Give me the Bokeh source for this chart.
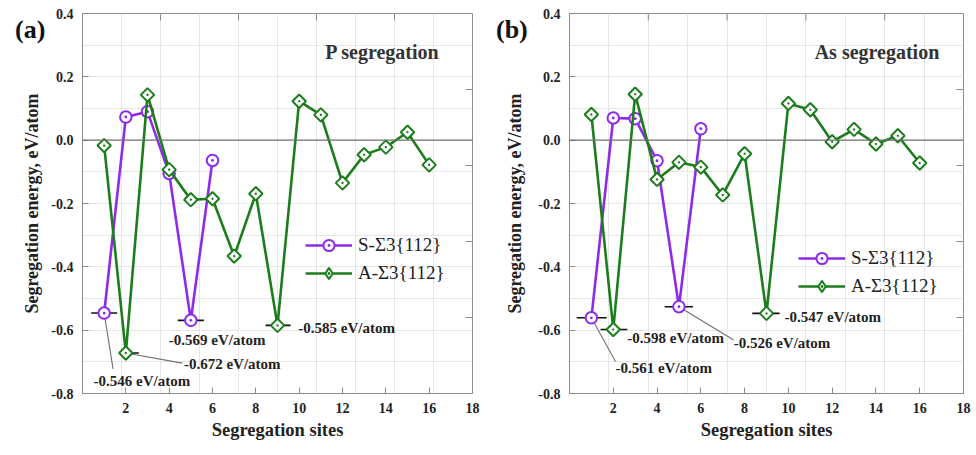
import math
from bokeh.plotting import figure
from bokeh.models import (Range1d, FixedTicker, Label, ColumnDataSource, Div,
                          Span, Legend, LegendItem, PrintfTickFormatter)
from bokeh.layouts import row
from bokeh.embed import file_html
from bokeh.resources import INLINE
from bokeh.core.properties import value

# ---------------- data ----------------
sites_S = [1, 2, 3, 4, 5, 6]
sites_A = list(range(1, 17))

P_S = [-0.546, 0.073, 0.090, -0.105, -0.569, -0.064]
P_A = [-0.017, -0.672, 0.143, -0.093, -0.188, -0.185, -0.366, -0.169,
       -0.585, 0.123, 0.080, -0.135, -0.046, -0.022, 0.025, -0.078]

As_S = [-0.561, 0.070, 0.068, -0.065, -0.526, 0.036]
As_A = [0.081, -0.598, 0.145, -0.124, -0.070, -0.085, -0.173, -0.043,
        -0.547, 0.116, 0.096, -0.005, 0.034, -0.012, 0.014, -0.072]

# annotated minima
P_ann_sites = [1, 2, 5, 9]
P_ann_vals = [-0.546, -0.672, -0.569, -0.585]
As_ann_sites = [1, 2, 5, 9]
As_ann_vals = [-0.561, -0.598, -0.526, -0.547]

x_ticks = [2, 4, 6, 8, 10, 12, 14, 16, 18]
y_ticks = [-0.8, -0.6, -0.4, -0.2, 0.0, 0.2, 0.4]
top_ticks = [3.6, 7.2, 10.8, 14.4]
right_ticks = [-0.56, -0.32, -0.08, 0.16]
series_names = ["S-\u03a33{112}", "A-\u03a33{112}"]
panel_tags = ["(a)", "(b)"]
panel_titles = ["P segregation", "As segregation"]

# ---------------- style ----------------
FONT = "Liberation Serif"
PURPLE = "#8f2ae8"
GREEN = "#1b7d1b"
TXT = "#222222"
AXC = "#8c8c8c"
GRIDC = "#e6e6e6"


def panel(title, s_vals, a_vals, ann_sites, ann_vals,
          bar_l, bar_r, txt_x, txt_y, lead_idx, lead_x, lead_y,
          legend_loc, width, bl, br, bb, ylab_standoff):
    p = figure(width=width, height=450, output_backend="svg", toolbar_location=None,
               x_range=Range1d(0, 18), y_range=Range1d(-0.8, 0.4),
               min_border_left=bl, min_border_right=br, min_border_top=13,
               min_border_bottom=bb)
    p.outline_line_color = AXC
    p.outline_line_width = 1

    # grids
    p.xgrid.ticker = FixedTicker(ticks=[1.8 * k for k in range(1, 10)])
    p.ygrid.ticker = FixedTicker(ticks=[-0.7, -0.6, -0.5, -0.4, -0.3, -0.2, -0.1,
                                        0.1, 0.2, 0.3])
    for g in (p.xgrid, p.ygrid):
        g.grid_line_color = GRIDC
        g.grid_line_width = 1
    p.add_layout(Span(location=0, dimension="width", line_color="#6e6e6e",
                      line_width=1.3))

    # bottom / left axes
    xa = p.xaxis[0]
    xa.ticker = FixedTicker(ticks=x_ticks)
    ya = p.yaxis[0]
    ya.ticker = FixedTicker(ticks=y_ticks)
    ya.formatter = PrintfTickFormatter(format="%.1f")
    xa.axis_label = "Segregation sites"
    ya.axis_label = "Segregation energy, eV/atom"
    for ax in (xa, ya):
        ax.axis_line_color = AXC
        ax.major_tick_line_color = AXC
        ax.major_tick_in = 6
        ax.major_tick_out = 0
        ax.minor_tick_line_color = None
        ax.major_label_text_font = FONT
        ax.major_label_text_font_style = "bold"
        ax.major_label_text_font_size = "14px"
        ax.major_label_text_color = TXT
        ax.axis_label_text_font = FONT
        ax.axis_label_text_font_style = "bold"
        ax.axis_label_text_color = TXT
    xa.axis_label_text_font_size = "18.5px"
    ya.axis_label_text_font_size = "18px"
    xa.major_label_standoff = 9
    xa.axis_label_standoff = 4
    ya.major_label_standoff = 9
    ya.axis_label_standoff = ylab_standoff

    # inward ticks on the top and right frame edges
    p.ray(x=top_ticks, y=[0.4] * len(top_ticks), length=7, length_units="screen",
          angle=-math.pi / 2, line_color=AXC, line_width=1)
    p.ray(x=[18] * len(right_ticks), y=right_ticks, length=7, length_units="screen",
          angle=math.pi, line_color=AXC, line_width=1)

    # annotation bars & leaders
    bar_src = ColumnDataSource(dict(
        x0=[s - l for s, l in zip(ann_sites, bar_l)],
        x1=[s + r for s, r in zip(ann_sites, bar_r)],
        y=ann_vals))
    p.segment(x0="x0", y0="y", x1="x1", y1="y", source=bar_src,
              line_color="#111111", line_width=1.6)
    lead_src = ColumnDataSource(dict(
        x0=[ann_sites[i] for i in lead_idx], y0=[ann_vals[i] for i in lead_idx],
        x1=lead_x, y1=lead_y))
    p.segment(x0="x0", y0="y0", x1="x1", y1="y1", source=lead_src,
              line_color="#707070", line_width=1.1)

    # series
    ls = p.line(sites_S, s_vals, line_color=PURPLE, line_width=2.6)
    ms = p.scatter(sites_S, s_vals, marker="circle_dot", size=11.5, line_color=PURPLE,
                   line_width=2, fill_color="white")
    la = p.line(sites_A, a_vals, line_color=GREEN, line_width=2.6)
    # diamond glyph used by the legend (fully covered by the rotated squares below)
    ma_leg = p.scatter(sites_A, a_vals, marker="diamond_dot", size=11, line_color=GREEN,
                       line_width=2, fill_color="white")
    p.scatter(sites_A, a_vals, marker="square_dot", angle=math.pi / 4, size=9.5,
              line_color=GREEN, line_width=2, fill_color="white")

    # annotation texts
    txt_src = ColumnDataSource(dict(x=txt_x, y=txt_y,
                                    t=["%.3f eV/atom" % v for v in ann_vals]))
    p.text(x="x", y="y", text="t", source=txt_src, text_font=value(FONT),
           text_font_style="bold", text_font_size="15px", text_color=TXT,
           text_baseline="middle", text_align="left")

    # inner title
    p.add_layout(Label(x=11.2, y=0.278, text=title, text_font=FONT,
                       text_font_style="bold", text_font_size="20px",
                       text_color="#333333", text_baseline="middle"))

    legend = Legend(items=[LegendItem(label=series_names[0], renderers=[ls, ms]),
                           LegendItem(label=series_names[1], renderers=[la, ma_leg])],
                    location=legend_loc, orientation="vertical",
                    label_text_font=FONT, label_text_font_size="19px",
                    label_text_color=TXT, label_standoff=6,
                    glyph_width=47, glyph_height=28, label_height=28,
                    spacing=0, padding=0, margin=0,
                    background_fill_alpha=0, border_line_alpha=0)
    p.add_layout(legend)
    return p


p1 = panel(panel_titles[0], P_S, P_A, P_ann_sites, P_ann_vals,
           bar_l=[0.6, 0.3, 0.6, 0.55], bar_r=[0.6, 0.6, 0.6, 0.6],
           txt_x=[0.51, 4.68, 3.98, 9.96], txt_y=[-0.759, -0.706, -0.630, -0.592],
           lead_idx=[0, 1], lead_x=[1.41, 4.6], lead_y=[-0.722, -0.704],
           legend_loc=(223, 106), width=484, bl=82, br=12, bb=57, ylab_standoff=6)

p2 = panel(panel_titles[1], As_S, As_A, As_ann_sites, As_ann_vals,
           bar_l=[0.67, 0.58, 0.65, 0.65], bar_r=[0.7, 0.64, 0.64, 0.6],
           txt_x=[2.1, 2.64, 7.5, 9.82], txt_y=[-0.719, -0.626, -0.642, -0.559],
           lead_idx=[0, 2], lead_x=[2.1, 7.5], lead_y=[-0.699, -0.631],
           legend_loc=(229, 93), width=490, bl=85, br=11, bb=51, ylab_standoff=10)


def tag_div(text, left):
    return Div(text=text, width=40, height=34,
               styles={"position": "absolute", "left": "%dpx" % left, "top": "8px",
                       "z-index": "10", "font-family": FONT, "font-weight": "bold",
                       "font-size": "26px", "line-height": "34px", "color": "#111111"})


layout = row(p1, p2, tag_div(panel_tags[0], 10), tag_div(panel_tags[1], 491))
open("out.html", "w").write(file_html(layout, INLINE))
